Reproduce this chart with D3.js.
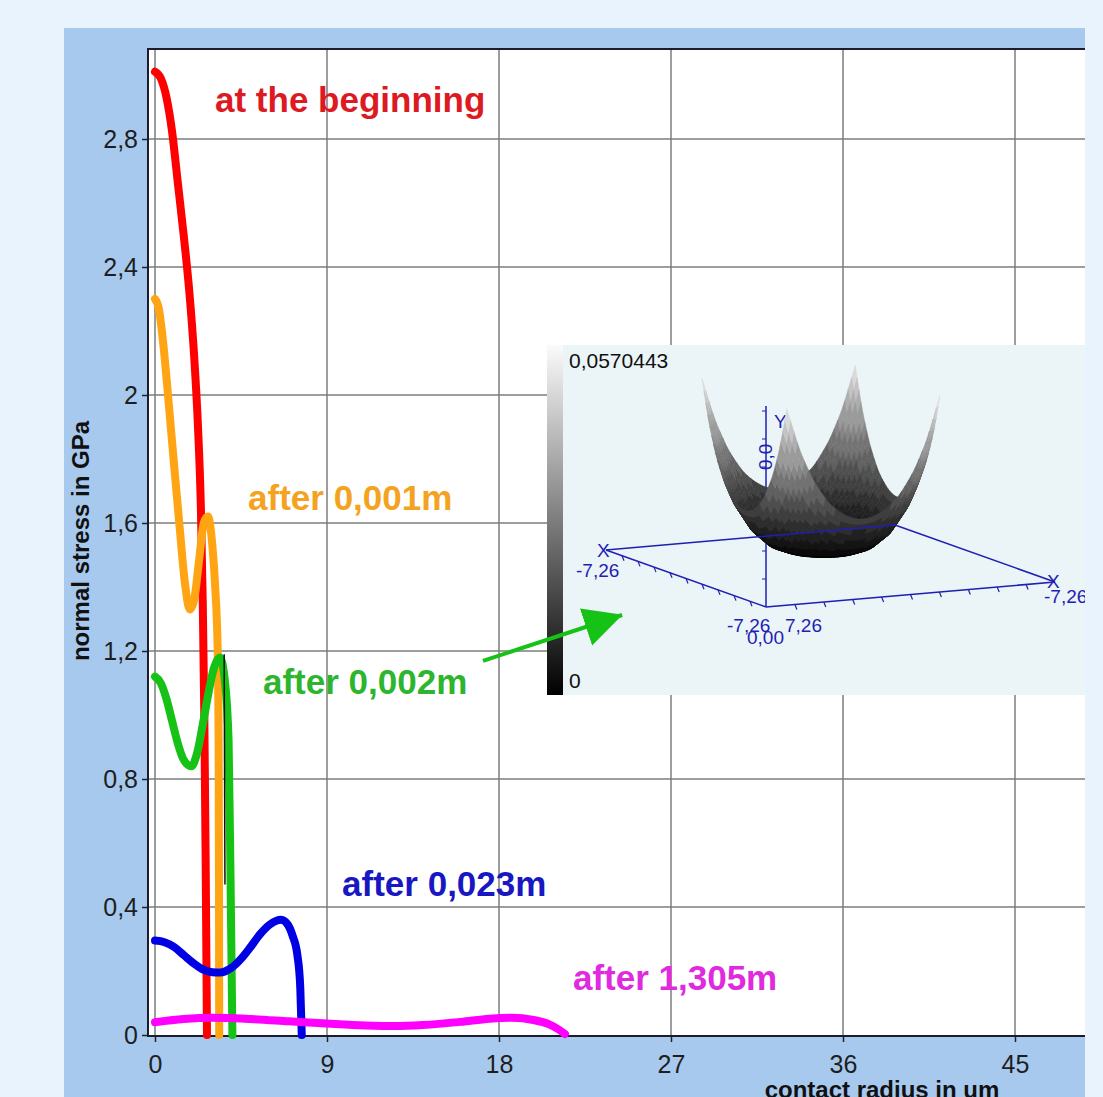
<!DOCTYPE html>
<html>
<head>
<meta charset="utf-8">
<script src="https://cdn.jsdelivr.net/npm/d3@7"></script>
<style>
  html, body { margin: 0; padding: 0; background: #e9f3fd; }
  svg { display: block; }
  text { font-family: "Liberation Sans", Arial, sans-serif; }
</style>
</head>
<body>
<svg id="chart" width="1103" height="1097"></svg>
<script>
// values
const xTicks = [0, 9, 18, 27, 36, 45];
const xTickLabels = ["0", "9", "18", "27", "36", "45"];
const yTicks = [0, 0.4, 0.8, 1.2, 1.6, 2, 2.4, 2.8];
const yTickLabels = ["0", "0,4", "0,8", "1,2", "1,6", "2", "2,4", "2,8"];

const seriesNames = ["at the beginning", "after 0,001m", "after 0,002m", "after 0,023m", "after 1,305m"];

// [contact radius um, normal stress GPa]
const atBeginning = [[0, 3.01], [0.3, 2.99], [0.6, 2.93], [0.9, 2.82], [1.2, 2.66], [1.5, 2.5],
  [1.8, 2.32], [2.05, 2.12], [2.25, 1.9], [2.4, 1.65], [2.5, 1.35], [2.58, 1.0], [2.65, 0.55], [2.72, 0]];
const after001 = [[0, 2.3], [0.2, 2.27], [0.45, 2.15], [0.68, 2.0], [1.0, 1.78], [1.3, 1.58],
  [1.55, 1.42], [1.83, 1.33], [2.05, 1.36], [2.3, 1.48], [2.55, 1.6], [2.77, 1.62], [3.0, 1.53],
  [3.15, 1.4], [3.28, 1.2], [3.33, 0.9], [3.35, 0.4], [3.36, 0]];
const after002 = [[0, 1.12], [0.3, 1.1], [0.6, 1.05], [0.9, 0.98], [1.2, 0.91], [1.5, 0.86],
  [1.9, 0.84], [2.2, 0.88], [2.5, 0.97], [2.8, 1.07], [3.1, 1.15], [3.4, 1.18], [3.65, 1.11],
  [3.85, 0.92], [3.95, 0.5], [4.05, 0]];
const after023 = [[0, 0.295], [0.5, 0.29], [1.0, 0.275], [1.5, 0.25], [2.0, 0.225], [2.5, 0.205],
  [3.0, 0.196], [3.4, 0.195], [4.0, 0.21], [4.5, 0.238], [5.0, 0.275], [5.5, 0.315], [6.0, 0.345],
  [6.6, 0.36], [6.95, 0.345], [7.2, 0.31], [7.45, 0.25], [7.6, 0.15], [7.68, 0]];
const after1305 = [[0, 0.04], [1.5, 0.05], [3, 0.054], [5, 0.05], [7, 0.043], [9, 0.036],
  [11, 0.03], [12.5, 0.028], [14, 0.031], [16, 0.041], [17.5, 0.051], [18.7, 0.054],
  [19.8, 0.047], [20.6, 0.034], [21.1, 0.018], [21.45, 0.003]];
const blackTrace = [[3.62, 1.19], [3.66, 0.47]];

// inset: radial profile of the 3D surface (relative radius, value)
const insetR = [0, 0.2, 0.4, 0.6, 0.8, 1.0, 1.1, 1.2, 1.3, 1.414];
const insetZ = [0, 0.00006, 0.0007, 0.0028, 0.0078, 0.0169, 0.0237, 0.0321, 0.0424, 0.0570443];
const insetBarLabels = ["0,0570443", "0"];
const insetAxisLabels = ["-7,26", "0,00", "7,26"];

const lineColors = ["#ff0000", "#ffa514", "#16c216", "#0000e4", "#ff00ff"];
const labelColors = ["#dd1a22", "#f4a320", "#2db52d", "#1818c2", "#e02ae0"];
// label anchors in data units (left, baseline)
const labelPos = [[3.14, 2.884], [4.87, 1.641], [5.65, 1.066], [9.79, 0.434], [21.87, 0.141]];

const series = seriesNames.map((name, i) => ({
  name,
  points: [atBeginning, after001, after002, after023, after1305][i],
  color: lineColors[i],
  labelColor: labelColors[i],
  label: labelPos[i]
}));

const svg = d3.select("#chart");
const plotLeft = 148, plotTop = 49, plotRight = 1085, plotBottom = 1036;

// background panel
svg.append("rect").attr("x", 64).attr("y", 28).attr("width", plotRight - 64).attr("height", 1097 - 28)
  .attr("fill", "#a8c9ee");
svg.append("rect").attr("x", plotLeft).attr("y", plotTop)
  .attr("width", plotRight - plotLeft).attr("height", plotBottom - plotTop).attr("fill", "#ffffff");

const x = d3.scaleLinear().domain([0, 45]).range([155, 1015]);
const y = d3.scaleLinear().domain([0, 2.8]).range([1035, 139]);

// grid
const grid = svg.append("g").attr("stroke", "#7d7d7d").attr("stroke-width", 1.5);
grid.selectAll("line.v").data(xTicks).enter().append("line")
  .attr("x1", d => x(d)).attr("x2", d => x(d)).attr("y1", plotTop).attr("y2", plotBottom);
grid.selectAll("line.h").data(yTicks.slice(1)).enter().append("line")
  .attr("x1", plotLeft).attr("x2", plotRight).attr("y1", d => y(d)).attr("y2", d => y(d));

// axes
const yAxis = svg.append("g").attr("transform", `translate(${plotLeft},0)`)
  .call(d3.axisLeft(y).tickValues(yTicks).tickFormat((d, i) => yTickLabels[i]).tickSize(6).tickPadding(4));
const xAxis = svg.append("g").attr("transform", `translate(0,${plotBottom})`)
  .call(d3.axisBottom(x).tickValues(xTicks).tickFormat((d, i) => xTickLabels[i]).tickSize(6).tickPadding(13));
[xAxis, yAxis].forEach(a => {
  a.select(".domain").remove();
  a.selectAll("line").attr("stroke", "#222").attr("stroke-width", 1.5);
  a.selectAll("text").attr("font-size", 25).attr("fill", "#1e1e1e")
    .attr("font-family", "'Liberation Sans', Arial, sans-serif");
});

// plot frame
svg.append("path")
  .attr("d", `M${plotRight},${plotTop}H${plotLeft}V${plotBottom}H${plotRight}`)
  .attr("fill", "none").attr("stroke", "#1c1c2a").attr("stroke-width", 2);

// axis titles (the x title runs off the bottom edge, as in the original)
svg.append("text").attr("transform", "translate(89,541) rotate(-90)")
  .attr("text-anchor", "middle").attr("font-size", 24).attr("font-weight", "bold").attr("fill", "#111")
  .text("normal stress in GPa");
svg.append("text").attr("x", 882).attr("y", 1098)
  .attr("text-anchor", "middle").attr("font-size", 24).attr("font-weight", "bold").attr("fill", "#111")
  .text("contact radius in um");

// curves
const line = d3.line().x(d => x(d[0])).y(d => y(d[1])).curve(d3.curveMonotoneX);
svg.append("g").selectAll("path").data(series).enter().append("path")
  .attr("d", d => line(d.points))
  .attr("fill", "none").attr("stroke", d => d.color).attr("stroke-width", 8)
  .attr("stroke-linecap", "round").attr("stroke-linejoin", "round");
svg.append("path").attr("d", d3.line().x(d => x(d[0])).y(d => y(d[1]))(blackTrace))
  .attr("stroke", "#111").attr("stroke-width", 1.5).attr("fill", "none");

// curve labels
svg.append("g").selectAll("text").data(series).enter().append("text")
  .attr("x", d => x(d.label[0])).attr("y", d => y(d.label[1]))
  .attr("font-size", 35).attr("font-weight", "bold").attr("fill", d => d.labelColor)
  .text(d => d.name);

// ---- inset with 3D surface ----
const inset = { x0: 547, y0: 345, x1: plotRight, y1: 695 };
svg.append("clipPath").attr("id", "insetClip").append("rect")
  .attr("x", inset.x0).attr("y", inset.y0).attr("width", inset.x1 - inset.x0).attr("height", inset.y1 - inset.y0);
const ig = svg.append("g").attr("clip-path", "url(#insetClip)");
ig.append("rect").attr("x", inset.x0).attr("y", inset.y0)
  .attr("width", inset.x1 - inset.x0).attr("height", inset.y1 - inset.y0).attr("fill", "#ebf4f6");

const defs = svg.append("defs");
const grad = defs.append("linearGradient").attr("id", "barGrad").attr("x1", 0).attr("x2", 0).attr("y1", 0).attr("y2", 1);
grad.append("stop").attr("offset", "0%").attr("stop-color", "#fbfbfb");
grad.append("stop").attr("offset", "100%").attr("stop-color", "#000");
ig.append("rect").attr("x", inset.x0).attr("y", inset.y0).attr("width", 16).attr("height", inset.y1 - inset.y0)
  .attr("fill", "url(#barGrad)");
ig.append("text").attr("x", 569).attr("y", 368).attr("font-size", 21).attr("fill", "#111").text(insetBarLabels[0]);
ig.append("text").attr("x", 569).attr("y", 688).attr("font-size", 21).attr("fill", "#111").text(insetBarLabels[1]);

// base plane geometry (pixels)
const baseC = [830.5, 566], A = [80, 28.5], B = [144.5, -12.5];
const baseP = (u, v) => [baseC[0] + u * A[0] + v * B[0], baseC[1] + u * A[1] + v * B[1]];
const surfC = [821, 553], s = 0.53, H = 166;
const zMax = insetZ[insetZ.length - 1];
const proj = (u, v, z) => [surfC[0] + s * (u * A[0] + v * B[0]), surfC[1] + s * (u * A[1] + v * B[1]) - z / zMax * H];
const blue = "#1f1fb4";

// z axis and its labels (behind surface)
const nearC = baseP(1, -1);
ig.append("line").attr("x1", nearC[0]).attr("x2", nearC[0]).attr("y1", nearC[1]).attr("y2", 406)
  .attr("stroke", blue).attr("stroke-width", 1.5);
ig.selectAll("line.zt").data(d3.range(1, 8)).enter().append("line")
  .attr("x1", nearC[0] - 4).attr("x2", nearC[0]).attr("y1", d => nearC[1] - d * 28).attr("y2", d => nearC[1] - d * 28)
  .attr("stroke", blue).attr("stroke-width", 1);
ig.append("text").attr("transform", `translate(${nearC[0] + 6},470) rotate(-90)`)
  .attr("font-size", 19).attr("fill", blue).text("0,0");
ig.append("text").attr("x", nearC[0] + 8).attr("y", 428).attr("font-size", 19).attr("fill", blue).text("Y");

// near base edges with ticks
const baseEdge = (a, b) => { const p = baseP(...a), q = baseP(...b); return `M${p[0]},${p[1]}L${q[0]},${q[1]}`; };
ig.append("path").attr("d", baseEdge([-1, -1], [1, -1]) + baseEdge([1, -1], [1, 1]))
  .attr("fill", "none").attr("stroke", blue).attr("stroke-width", 1.5);
const ticks = [];
d3.range(1, 10).forEach(k => { ticks.push([-1 + k * 0.2, -1]); ticks.push([1, -1 + k * 0.2]); });
ig.selectAll("line.bt").data(ticks).enter().append("line")
  .attr("x1", d => baseP(...d)[0]).attr("y1", d => baseP(...d)[1])
  .attr("x2", d => baseP(...d)[0] + 2).attr("y2", d => baseP(...d)[1] + 5)
  .attr("stroke", blue).attr("stroke-width", 1.2);

// surface (painter's order, far to near)
const zOfR = d3.scaleLinear().domain(insetR).range(insetZ).clamp(true);
const N = 44, cells = [];
for (let i = 0; i < N; i++) {
  for (let j = 0; j < N; j++) {
    const u0 = -1 + 2 * i / N, u1 = -1 + 2 * (i + 1) / N, v0 = -1 + 2 * j / N, v1 = -1 + 2 * (j + 1) / N;
    const cs = [[u0, v0], [u1, v0], [u1, v1], [u0, v1]];
    const zs = cs.map(([u, v]) => zOfR(Math.hypot(u, v)));
    const uc = (u0 + u1) / 2, vc = (v0 + v1) / 2;
    cells.push({ pts: cs.map(([u, v], k) => proj(u, v, zs[k])), z: d3.mean(zs), depth: A[1] * uc + B[1] * vc });
  }
}
cells.sort((a, b) => a.depth - b.depth);
// banded grey ramp, darker in the low part like the original colour bar rendering
const grey = z => {
  const t = Math.floor(Math.pow(z / zMax, 0.8) * 14) / 14;
  const g = Math.round(4 + Math.pow(t, 1.35) * 236);
  return `rgb(${g},${g},${g})`;
};
ig.append("g").selectAll("path").data(cells).enter().append("path")
  .attr("d", d => "M" + d.pts.map(p => p.join(",")).join("L") + "Z")
  .attr("fill", d => grey(d.z)).attr("stroke", d => grey(d.z)).attr("stroke-width", 0.6);

// far base edges drawn over surface
ig.append("path").attr("d", baseEdge([-1, -1], [-1, 1]) + baseEdge([-1, 1], [1, 1]))
  .attr("fill", "none").attr("stroke", blue).attr("stroke-width", 1.5);

// base labels (they overlap near the front corner in the original too)
const insetTexts = [
  { t: insetAxisLabels[0], x: 576, y: 577 }, { t: "X", x: 597, y: 557 },
  { t: insetAxisLabels[0], x: 727, y: 632 }, { t: insetAxisLabels[1], x: 747, y: 644 },
  { t: insetAxisLabels[2], x: 785, y: 632 }, { t: insetAxisLabels[0], x: 1044, y: 603 },
  { t: "X", x: 1047, y: 588 }
];
ig.selectAll("text.bl").data(insetTexts).enter().append("text")
  .attr("x", d => d.x).attr("y", d => d.y).attr("font-size", 19).attr("fill", blue).text(d => d.t);

// green arrow pointing to the inset (data units)
const arrowFrom = [17.16, 1.169], arrowTo = [24.44, 1.3125];
defs.append("marker").attr("id", "arrowHead").attr("markerUnits", "userSpaceOnUse")
  .attr("viewBox", "0 -20 40 40").attr("markerWidth", 40).attr("markerHeight", 40)
  .attr("refX", 38).attr("refY", 0).attr("orient", "auto")
  .append("path").attr("d", "M0,-19.5L38.5,0L0,19.5Z").attr("fill", "#16c216");
svg.append("line")
  .attr("x1", x(arrowFrom[0])).attr("y1", y(arrowFrom[1]))
  .attr("x2", x(arrowTo[0])).attr("y2", y(arrowTo[1]))
  .attr("stroke", "#16c216").attr("stroke-width", 4).attr("marker-end", "url(#arrowHead)");
</script>
</body>
</html>
